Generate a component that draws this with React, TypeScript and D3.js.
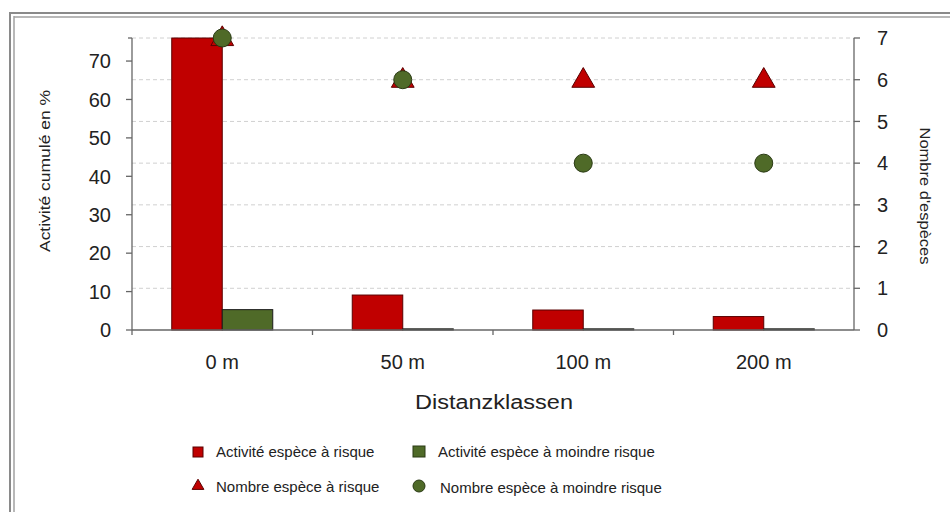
import React from "react";
import * as d3 from "d3";

const categories = ["0 m", "50 m", "100 m", "200 m"];
const activiteRisque = [76, 9.1, 5.2, 3.5];
const activiteMoindre = [5.3, 0.3, 0.3, 0.3];
const nombreRisque = [7, 6, 6, 6];
const nombreMoindre = [7, 6, 4, 4];
const leftTicks = [0, 10, 20, 30, 40, 50, 60, 70];
const rightTicks = [0, 1, 2, 3, 4, 5, 6, 7];
const seriesKeys = ["risque", "moindre"];

const W = 950;
const H = 512;
const plot = { left: 132, right: 854, top: 38, bottom: 330 };
const RED = "#c00000";
const RED_DARK = "#5a0000";
const GREEN = "#4f6a28";
const GREEN_DARK = "#2a3a14";
const AXIS = "#666";
const FONT = "Liberation Sans, Arial, sans-serif";

export default function App() {
  const x = d3.scaleBand<string>().domain(categories).range([plot.left, plot.right]).paddingInner(0).paddingOuter(0);
  const xSub = d3.scaleBand<string>().domain(seriesKeys).range([0, x.bandwidth()]).paddingInner(0).paddingOuter(0.787);
  const yL = d3.scaleLinear().domain([0, 76]).range([plot.bottom, plot.top]);
  const yR = d3.scaleLinear().domain([0, 7]).range([plot.bottom, plot.top]);
  const cx = (c: string) => (x(c) as number) + x.bandwidth() / 2;
  const tri = d3.symbol().type(d3.symbolTriangle).size(225)();
  const triLegend = d3.symbol().type(d3.symbolTriangle).size(60)();

  const bars = [
    { key: "risque", vals: activiteRisque, fill: RED, stroke: RED_DARK },
    { key: "moindre", vals: activiteMoindre, fill: GREEN, stroke: "#1a1a1a" },
  ];

  return (
    <svg width={W} height={H} style={{ position: "absolute", left: 0, top: 0, background: "#fff" }} fontFamily={FONT}>
      <rect x={0} y={0} width={W} height={H} fill="#fff" />
      {/* frame */}
      <line x1={10} y1={13} x2={W} y2={13} stroke="#8a8a8a" strokeWidth={2} />
      <line x1={14} y1={17} x2={W} y2={17} stroke="#a0a0a0" strokeWidth={1.5} />
      <line x1={10} y1={12} x2={10} y2={H} stroke="#8a8a8a" strokeWidth={2} />
      <line x1={14} y1={16} x2={14} y2={H} stroke="#a0a0a0" strokeWidth={1.5} />

      {/* gridlines */}
      {rightTicks.filter((t) => t > 0).map((t) => (
        <line key={"g" + t} x1={plot.left} x2={plot.right} y1={yR(t)} y2={yR(t)} stroke="#d0d0d0" strokeWidth={1} strokeDasharray="4,3" />
      ))}

      {/* bars */}
      {bars.map((s) =>
        categories.map((c, i) => (
          <rect
            key={s.key + c}
            x={(x(c) as number) + (xSub(s.key) as number)}
            y={yL(s.vals[i])}
            width={xSub.bandwidth()}
            height={yL(0) - yL(s.vals[i])}
            fill={s.fill}
            stroke={s.stroke}
            strokeWidth={1}
          />
        ))
      )}

      {/* axes */}
      <line x1={plot.left} x2={plot.left} y1={plot.top} y2={plot.bottom} stroke={AXIS} strokeWidth={1.3} />
      <line x1={plot.right} x2={plot.right} y1={plot.top} y2={plot.bottom} stroke={AXIS} strokeWidth={1.3} />
      <line x1={plot.left} x2={plot.right} y1={plot.bottom} y2={plot.bottom} stroke={AXIS} strokeWidth={1.3} />
      {leftTicks.map((t) => (
        <g key={"l" + t}>
          <line x1={plot.left - 6} x2={plot.left} y1={yL(t)} y2={yL(t)} stroke={AXIS} strokeWidth={1.3} />
          <text x={111} y={yL(t)} dy="0.36em" textAnchor="end" fontSize={20} fill="#222">{t}</text>
        </g>
      ))}
      <line x1={plot.left - 4} x2={plot.left} y1={plot.top} y2={plot.top} stroke={AXIS} strokeWidth={1.3} />
      {rightTicks.map((t) => (
        <g key={"r" + t}>
          <line x1={plot.right} x2={plot.right + 6} y1={yR(t)} y2={yR(t)} stroke={AXIS} strokeWidth={1.3} />
          <text x={877} y={yR(t)} dy="0.36em" textAnchor="start" fontSize={20} fill="#222">{t}</text>
        </g>
      ))}
      {categories.map((c, i) => (
        <line key={"xt" + i} x1={x(c) as number} x2={x(c) as number} y1={plot.bottom} y2={plot.bottom + 5} stroke={AXIS} strokeWidth={1.3} />
      ))}
      {categories.map((c) => (
        <text key={"xl" + c} x={cx(c)} y={362} dy="0.36em" textAnchor="middle" fontSize={20} fill="#222">{c}</text>
      ))}

      {/* markers */}
      {categories.map((c, i) => (
        <path key={"t" + c} d={tri as string} transform={`translate(${cx(c)},${yR(nombreRisque[i]) + 1})`} fill={RED} stroke={RED_DARK} strokeWidth={1} />
      ))}
      {categories.map((c, i) => (
        <circle key={"c" + c} cx={cx(c)} cy={yR(nombreMoindre[i])} r={9} fill={GREEN} stroke={GREEN_DARK} strokeWidth={1} />
      ))}

      {/* titles */}
      <text transform="translate(45,171) rotate(-90)" textAnchor="middle" dy="0.35em" fontSize={15} textLength={162} lengthAdjust="spacingAndGlyphs" fill="#222">Activité cumulé en %</text>
      <text transform="translate(925,196) rotate(90)" textAnchor="middle" dy="0.35em" fontSize={15} textLength={137} lengthAdjust="spacingAndGlyphs" fill="#222">Nombre d'espèces</text>
      <text x={494} y={402} dy="0.35em" textAnchor="middle" fontSize={20} textLength={158} lengthAdjust="spacingAndGlyphs" fill="#222">Distanzklassen</text>

      {/* legend */}
      <rect x={193} y={447} width={10} height={10} fill={RED} stroke={RED_DARK} strokeWidth={1} />
      <text x={216} y={452} dy="0.35em" fontSize={15} fill="#222">Activité espèce à risque</text>
      <rect x={413} y={446} width={12} height={11} fill={GREEN} stroke={GREEN_DARK} strokeWidth={1} />
      <text x={438} y={452} dy="0.35em" fontSize={15} fill="#222">Activité espèce à moindre risque</text>
      <path d={triLegend as string} transform="translate(198,486)" fill={RED} stroke={RED_DARK} strokeWidth={1} />
      <text x={216} y={487} dy="0.35em" fontSize={15} fill="#222">Nombre espèce à risque</text>
      <circle cx={419} cy={486} r={6} fill={GREEN} stroke={GREEN_DARK} strokeWidth={1} />
      <text x={440} y={488} dy="0.35em" fontSize={15} fill="#222">Nombre espèce à moindre risque</text>
    </svg>
  );
}
